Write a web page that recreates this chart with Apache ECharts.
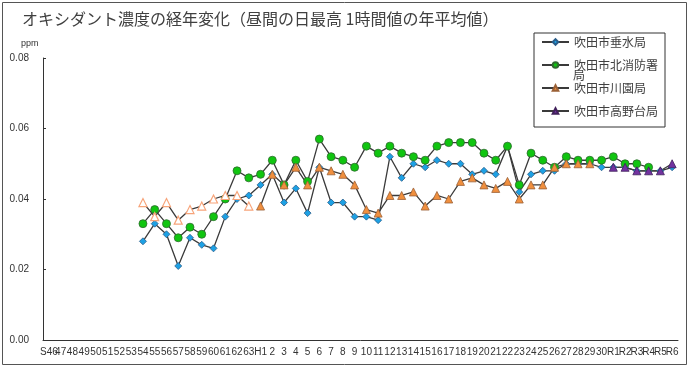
<!DOCTYPE html>
<html><head><meta charset="utf-8">
<script src="https://cdn.jsdelivr.net/npm/echarts@6/dist/echarts.min.js"></script>
<style>html,body{margin:0;padding:0;background:#fff}#c{width:690px;height:371px}</style>
</head><body><div id="c"></div>
<script>
const categories = ['S46','47','48','49','50','51','52','53','54','55','56','57','58','59','60','61','62','63',
  'H1','2','3','4','5','6','7','8','9','10','11','12','13','14','15','16','17','18','19','20','21','22','23','24','25','26','27','28','29','30',
  'R1','R2','R3','R4','R5','R6'];
const yTicks = [0, 0.02, 0.04, 0.06, 0.08];
const seriesNames = ['吹田市垂水局','吹田市北消防署局','吹田市川園局','吹田市高野台局'];
// values from S54 onward (index 8)
const tarumi = [0.028,0.033,0.030,0.021,0.029,0.027,0.026,0.035,0.040,0.041,
  0.044,0.047,0.039,0.043,0.036,0.049,0.039,0.039,0.035,0.035,
  0.034,0.052,0.046,0.050,0.049,0.051,0.050,0.050,0.047,0.048,
  0.047,0.055,0.042,0.047,0.048,0.048,0.050,0.050,0.050,0.049,
  0.049,0.049,0.048,0.048,0.048,0.049];
const kitaShobo = [0.033,0.037,0.033,0.029,0.032,0.030,0.035,0.040,0.048,0.046,
  0.047,0.051,0.044,0.051,0.045,0.057,0.052,0.051,0.049,0.055,
  0.053,0.055,0.053,0.052,0.051,0.055,0.056,0.056,0.056,0.053,
  0.051,0.055,0.044,0.053,0.051,0.049,0.052,0.051,0.051,0.051,
  0.052,0.050,0.050,0.049];
// 川園局: S54–S63 (hollow markers), H1–H29 (filled)
const kawazonoOld = [0.039,0.035,0.039,0.034,0.037,0.038,0.040,0.041,0.041,0.038];
const kawazono = [0.038,0.047,0.044,0.049,0.044,0.049,0.048,0.047,0.044,0.037,
  0.036,0.041,0.041,0.042,0.038,0.041,0.040,0.045,0.046,0.044,
  0.043,0.045,0.040,0.044,0.044,0.049,0.050,0.050,0.050];
const takanodai = [0.049,0.049,0.048,0.048,0.048,0.050];

function place(start, vals){
  const a = new Array(categories.length).fill(null);
  vals.forEach((v,i)=>{ a[start+i] = v; });
  return a;
}
const iS54 = categories.indexOf('54');
const iH1 = categories.indexOf('H1');
const iR1 = categories.indexOf('R1');

const lineStyle = {color:'#3a3a3a', width:1.3};
const chart = echarts.init(document.getElementById('c'), null, {renderer:'canvas'});
chart.setOption({
  animation:false,
  backgroundColor:'#fff',
  title:{text:'オキシダント濃度の経年変化（昼間の日最高 1時間値の年平均値）', left:22, top:11, padding:0,
    textStyle:{fontFamily:'Noto Sans CJK JP', fontSize:16, fontWeight:'normal', color:'#404040'}},
  grid:{left:43, right:12, top:58, bottom:31},
  legend:{orient:'vertical', left:534, top:33, data:seriesNames,
    backgroundColor:'#fff', borderColor:'#333', borderWidth:1, padding:[2,7,9,7],
    itemWidth:27, itemHeight:7, itemGap:9,
    formatter:n => n==='吹田市北消防署局' ? '吹田市北消防署' : n,
    textStyle:{fontFamily:'Noto Sans CJK JP', fontSize:12, color:'#404040', lineHeight:14}},
  graphic:[
    {type:'rect', shape:{x:2.5, y:2.5, width:684, height:362}, style:{fill:'none', stroke:'#555', lineWidth:1}, z:-1, silent:true},
    {type:'text', left:21, top:39, style:{text:'ppm', font:'9px "Liberation Sans"', fill:'#333'}},
    {type:'text', left:573, top:69, z:100, style:{text:'局', font:'12px "Noto Sans CJK JP"', fill:'#404040'}}
  ],
  xAxis:{type:'category', data:categories, boundaryGap:true,
    axisLine:{lineStyle:{color:'#333', width:1}},
    axisTick:{inside:true, length:3, lineStyle:{color:'#333'}},
    axisLabel:{interval:0, margin:7, fontFamily:'Liberation Sans', fontSize:10, color:'#333'},
    splitLine:{show:false}},
  yAxis:{type:'value', min:yTicks[0], max:yTicks[yTicks.length-1], interval:0.02,
    axisLine:{show:true, lineStyle:{color:'#333'}},
    axisTick:{show:true, inside:true, length:3, lineStyle:{color:'#333'}},
    axisLabel:{margin:14, fontFamily:'Liberation Sans', fontSize:10, color:'#333', formatter:v=>v.toFixed(2)},
    splitLine:{show:false}},
  series:[
    {name:seriesNames[0], type:'line', data:place(iS54, tarumi), symbol:'diamond', symbolSize:7,
      lineStyle:lineStyle, itemStyle:{color:'#1da1e4', borderColor:'#2a5d8a', borderWidth:0.8}},
    {name:seriesNames[1], type:'line', data:place(iS54, kitaShobo), symbol:'circle', symbolSize:8,
      lineStyle:lineStyle, itemStyle:{color:'#10c510', borderColor:'#2f6a2f', borderWidth:0.8}},
    {name:'吹田市川園局（旧）', type:'line', data:place(iS54, kawazonoOld), symbol:'triangle', symbolSize:8,
      lineStyle:lineStyle, itemStyle:{color:'#fff', borderColor:'#f7a47a', borderWidth:1.2}},
    {name:seriesNames[2], type:'line', data:place(iH1, kawazono), symbol:'triangle', symbolSize:8,
      lineStyle:lineStyle, itemStyle:{color:'#f08f3e', borderColor:'#9a6036', borderWidth:0.8}},
    {name:seriesNames[3], type:'line', data:place(iR1, takanodai), symbol:'triangle', symbolSize:8,
      lineStyle:lineStyle, itemStyle:{color:'#7232a0', borderColor:'#40205a', borderWidth:0.8}}
  ]
});
</script></body></html>
